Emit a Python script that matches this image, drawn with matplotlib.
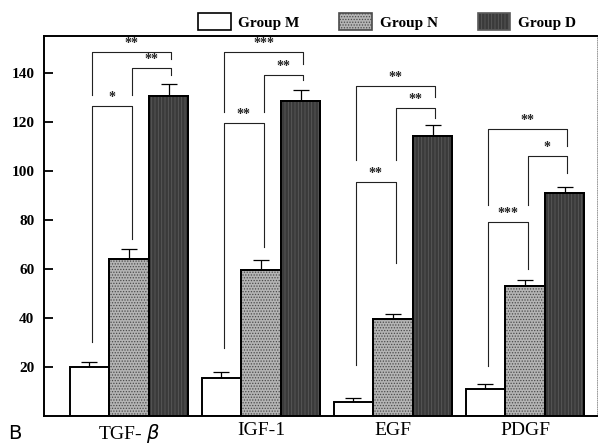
import numpy as np
import matplotlib
matplotlib.use("Agg")
import matplotlib.pyplot as plt
from matplotlib.patches import Patch

# values
factors = ["TGF- $\\beta$", "IGF-1", "EGF", "PDGF"]
groups = ["Group M", "Group N", "Group D"]
group_m = [20.0, 15.6, 5.5, 10.9]
group_n = [64.2, 59.7, 39.5, 53.0]
group_d = [130.6, 128.3, 114.0, 91.0]
err_m = [2.2, 2.4, 2.0, 2.1]
err_n = [3.8, 4.0, 2.2, 2.5]
err_d = [4.8, 4.7, 4.6, 2.3]

# significance brackets: (from bar, to bar, top, left leg end, right leg end, label)
brackets = [
    [(0, 1, 126.5, 30.0, 72.0, "*"), (0, 2, 148.4, 131.0, 145.5, "**"), (1, 2, 142.0, 131.0, 139.0, "**")],
    [(0, 1, 119.7, 27.6, 69.0, "**"), (0, 2, 148.4, 124.0, 143.7, "***"), (1, 2, 139.0, 124.0, 137.0, "**")],
    [(0, 1, 95.4, 20.8, 62.3, "**"), (0, 2, 134.7, 104.5, 130.0, "**"), (1, 2, 125.8, 104.5, 121.5, "**")],
    [(0, 1, 79.3, 20.5, 60.0, "***"), (0, 2, 117.0, 86.0, 110.0, "**"), (1, 2, 106.0, 86.0, 99.0, "*")],
]

plt.rcParams["font.family"] = ["Liberation Serif", "DejaVu Serif"]
plt.rcParams["hatch.linewidth"] = 0.6

fig = plt.figure(figsize=(5.99, 4.47), dpi=100)
ax = fig.add_axes([0.0735, 0.0694, 0.923, 0.8501])

x = np.arange(len(factors))
w = 0.3
offs = [-w, 0, w]
vals = [group_m, group_n, group_d]
errs = [err_m, err_n, err_d]
faces = ["white", "#b4b4b4", "#3a3a3a"]
hatches = [None, "......", "|||||"]
hcols = [None, "#4a4a4a", "#5a5a5a"]

for i in range(3):
    ax.bar(x + offs[i], vals[i], w, color=faces[i], edgecolor="black", linewidth=1.4, zorder=2)
    if hatches[i]:
        ax.bar(x + offs[i], vals[i], w, color="none", edgecolor=hcols[i], hatch=hatches[i],
               linewidth=0, zorder=2.5)
        ax.bar(x + offs[i], vals[i], w, color="none", edgecolor="black", linewidth=1.4, zorder=2.6)
    ax.errorbar(x + offs[i], vals[i], yerr=[np.zeros(4), errs[i]], fmt="none", ecolor="black",
                elinewidth=0.9, capsize=6, capthick=0.9, zorder=1.5)

for gi, blist in enumerate(brackets):
    for a, b, top, la, lb, lab in blist:
        xa = x[gi] + offs[a] + 0.02
        xb = x[gi] + offs[b] + 0.02
        ax.plot([xa, xa, xb, xb], [la, top, top, lb], color="#222222", lw=0.8, zorder=3)
        ax.text((xa + xb) / 2, top + 0.8, lab, ha="center", va="bottom", fontsize=10,
                fontweight="bold", color="#222222")

ax.set_xlim(-0.644, 3.545)
ax.set_ylim(0, 155)
ax.set_yticks([20, 40, 60, 80, 100, 120, 140])
ax.set_xticks(x)
ax.set_xticklabels(factors, fontsize=14)
ax.tick_params(axis="x", length=0, pad=4)
ax.tick_params(axis="y", direction="in", length=6.5, width=1.3, labelsize=11, pad=7)
for lab in ax.get_yticklabels():
    lab.set_fontweight("bold")
for s in ["left", "bottom", "top"]:
    ax.spines[s].set_linewidth(1.4)
ax.spines["right"].set_linewidth(0.6)
ax.spines["right"].set_color("#888888")
ax.spines["right"].set_linestyle(":")

handles = [
    Patch(facecolor="white", edgecolor="black", linewidth=1.2),
    Patch(facecolor="#b4b4b4", edgecolor="#4a4a4a", hatch="......", linewidth=1.2),
    Patch(facecolor="#3a3a3a", edgecolor="#5a5a5a", hatch="|||||", linewidth=1.2),
]
ax.legend(handles, groups, ncol=3, loc="lower right", bbox_to_anchor=(0.976, 0.995),
          frameon=False, prop={"size": 11, "weight": "bold"}, handlelength=2.15,
          handleheight=1.37, columnspacing=2.6, handletextpad=0.5, borderaxespad=0.1)

fig.text(0.013, 0.018, "B", fontsize=14, family="DejaVu Sans")

fig.savefig("out.png", dpi=100)
